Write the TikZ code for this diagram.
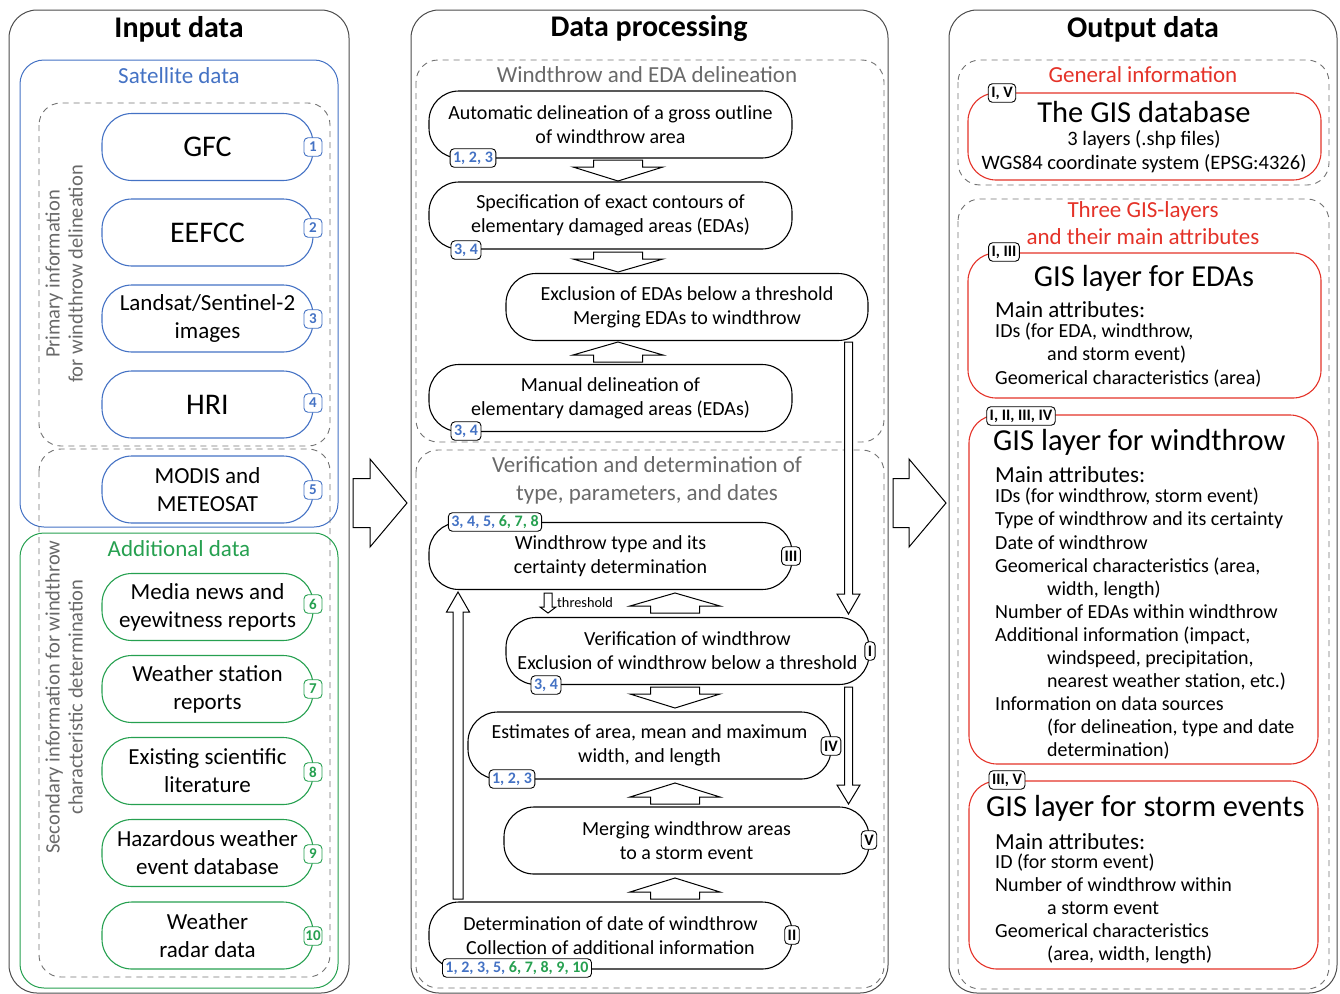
\documentclass[tikz,border=0pt]{standalone}
\usepackage{fontspec}
\setmainfont{Carlito}
\definecolor{cblue}{RGB}{68,114,196}
\definecolor{cgreen}{RGB}{38,160,80}
\definecolor{cred}{RGB}{228,50,40}
\definecolor{cgray}{RGB}{105,105,105}
\definecolor{dgray}{RGB}{115,115,115}
\newcommand\fs[2]{\fontsize{#1pt}{#2pt}\selectfont}
\newcommand\vblk[6]{\draw[blk] ({#1-#5},#2) -- ({#1+#5},#2) -- ({#1+#5},#3) -- ({#1+#6},#3) -- (#1,#4) -- ({#1-#6},#3) -- ({#1-#5},#3) -- cycle;}
\newcommand\hblk[6]{\draw[blk] (#2,{#1-#5}) -- (#3,{#1-#5}) -- (#3,{#1-#6}) -- (#4,#1) -- (#3,{#1+#6}) -- (#3,{#1+#5}) -- (#2,{#1+#5}) -- cycle;}
\newcommand\ind{\hspace*{52pt}}
\begin{document}
\begin{tikzpicture}[x=1pt,y=-1pt,
  panel/.style={draw=black!70, line width=1pt, rounded corners=28pt},
  dbox/.style={draw=dgray, dash pattern=on 6pt off 5pt, line width=0.9pt, rounded corners=22pt},
  title/.style={font=\bfseries\fs{30}{34}},
  item/.style={draw, line width=1.1pt, rounded corners=30pt, minimum width=211pt, minimum height=67pt, align=center, font=\fs{23}{28}, inner sep=0pt},
  bigitem/.style={item, font=\fs{30}{34}},
  proc/.style={draw=black, line width=1.1pt, rounded corners=30pt, minimum width=363pt, minimum height=67pt, align=center, font=\fs{20}{24}, inner sep=0pt},
  rbox/.style={draw=cred, line width=1.1pt, rounded corners=28pt, inner sep=0pt},
  badge/.style={draw=black, fill=white, rounded corners=4pt, line width=0.9pt, inner xsep=3pt, inner ysep=1.5pt, minimum height=18.5pt, font=\bfseries\fs{16}{18}},
  nbadge/.style={badge, minimum width=18pt, inner sep=1pt, font=\bfseries\fs{15}{16}},
  blk/.style={draw=black, fill=white, line width=1pt, line join=miter},
  glabel/.style={text=cgray, font=\fs{23}{28}, align=center},
  rlabel/.style={text=cred, font=\fs{23}{27}, align=center},
  gtitle/.style={font=\fs{30.5}{34}},
  mattr/.style={font=\fs{23}{26}, anchor=west, inner sep=0pt},
  attrs/.style={font=\fs{20}{23.1}, align=left, anchor=west, inner sep=0pt}
]
\useasboundingbox (0,0) rectangle (1340,993);

% ---------------- panels
\draw[panel] (9,10) rectangle (349,993);
\draw[panel] (411,10) rectangle (888,993);
\draw[panel] (949,10) rectangle (1337,993);

% ---------------- Input data
\node[title] (tin) at (179,29) {Input data};
\draw[draw=cblue, line width=1pt, rounded corners=24pt] (20,60) rectangle (338,527);
\node[text=cblue, font=\fs{23}{27}] (lsat) at (179,76) {Satellite data};
\draw[dbox] (39,103) rectangle (330,446);
\draw[dbox] (39,449) rectangle (330,977);
\draw[draw=cgreen, line width=1pt, rounded corners=24pt] (20,533) rectangle (338,988);
\node[text=cgreen, font=\fs{23}{27}] (ladd) at (179,549) {Additional data};
\node[rotate=90, text=cgray, align=center, font=\fs{20.5}{23}] (lprim) at (64,274) {Primary information\\for windthrow delineation};
\node[rotate=90, text=cgray, align=center, font=\fs{20.5}{23}] (lsec) at (64,697) {Secondary information for windthrow\\characteristic determination};

\node[bigitem, draw=cblue] (gfc) at (207.5,147) {GFC};
\node[bigitem, draw=cblue] (eefcc) at (207.5,232.5) {EEFCC};
\node[item, draw=cblue] (lands) at (207.5,318.5) {Landsat/Sentinel-2\\images};
\node[bigitem, draw=cblue] (hri) at (207.5,404.5) {HRI};
\node[item, draw=cblue] (modis) at (207.5,489.5) {MODIS and\\METEOSAT};
\node[item, draw=cgreen] (media) at (207.5,607) {Media news and\\eyewitness reports};
\node[item, draw=cgreen] (wst) at (207.5,689) {Weather station\\reports};
\node[item, draw=cgreen] (lit) at (207.5,771) {Existing scientific\\literature};
\node[item, draw=cgreen] (haz) at (207.5,853) {Hazardous weather\\event database};
\node[item, draw=cgreen] (radar) at (207.5,935.5) {Weather\\radar data};

\node[nbadge, draw=cblue, text=cblue] (n1) at (313,147) {1};
\node[nbadge, draw=cblue, text=cblue] (n2) at (313,228) {2};
\node[nbadge, draw=cblue, text=cblue] (n3) at (313,319) {3};
\node[nbadge, draw=cblue, text=cblue] (n4) at (313,403) {4};
\node[nbadge, draw=cblue, text=cblue] (n5) at (313,490) {5};
\node[nbadge, draw=cgreen, text=cgreen] (n6) at (313,604) {6};
\node[nbadge, draw=cgreen, text=cgreen] (n7) at (313,689) {7};
\node[nbadge, draw=cgreen, text=cgreen] (n8) at (313,772) {8};
\node[nbadge, draw=cgreen, text=cgreen] (n9) at (313,854) {9};
\node[nbadge, draw=cgreen, text=cgreen] (n10) at (313,936) {10};

% ---------------- Data processing
\node[title] (tproc) at (649,29) {Data processing};
\draw[dbox] (416,60) rectangle (884,442);
\node[glabel] (lwe) at (647,75) {Windthrow and EDA delineation};
\draw[dbox] (416,450) rectangle (884,988);
\node[glabel] (lver) at (647,480) {Verification and determination of\\type, parameters, and dates};

% block arrows
\vblk{618}{160}{167}{181}{24.5}{45}
\vblk{618}{252}{259}{272}{24.5}{45}
\vblk{618}{362}{355}{342}{24.5}{45}
\vblk{675}{613}{606}{593}{24.5}{45}
\vblk{675}{687}{694}{708}{24.5}{45}
\vblk{675}{804}{797}{783}{24.5}{45}
\vblk{675}{899}{892}{878}{24.5}{45}
\vblk{848.5}{342}{594}{614}{4}{11.5}
\vblk{848.5}{687}{785}{804}{4}{11.5}
\vblk{458}{899}{612}{592}{5}{11.5}
\vblk{548}{593}{607}{613}{4}{8}
\hblk{503}{353}{370}{407}{24.5}{44}
\hblk{503}{893}{909}{946}{24.5}{44}

\node[proc] (p1) at (610.5,124.5) {Automatic delineation of a gross outline\\of windthrow area};
\node[proc] (p2) at (610.5,215.5) {Specification of exact contours of\\elementary damaged areas (EDAs)};
\node[proc, minimum width=362pt] (p3) at (687,307) {Exclusion of EDAs below a threshold\\Merging EDAs to windthrow};
\node[proc] (p4) at (610.5,398) {Manual delineation of\\elementary damaged areas (EDAs)};
\node[proc] (p5) at (610.5,556) {Windthrow type and its\\certainty determination};
\node[proc] (p6) at (687.5,651) {Verification of windthrow\\Exclusion of windthrow below a threshold};
\node[proc] (p7) at (649.5,745.5) {Estimates of area, mean and maximum\\width, and length};
\node[proc, minimum width=365pt] (p8) at (686.5,840.5) {Merging windthrow areas\\to a storm event};
\node[proc] (p9) at (610.5,935.5) {Determination of date of windthrow\\Collection of additional information};

\node[anchor=west, font=\fs{14.3}{16}, inner sep=0pt] (thr) at (557,603) {threshold};

\node[badge, text=cblue] (b1) at (473,158) {1, 2, 3};
\node[badge, text=cblue] (b2) at (466,250) {3, 4};
\node[badge, text=cblue] (b4) at (466,431) {3, 4};
\node[badge] (b5) at (495,522) {\textcolor{cblue}{3, 4, 5,} \textcolor{cgreen}{6, 7, 8}};
\node[badge] (r5) at (791,556) {III};
\node[badge] (r6) at (870,651) {I};
\node[badge, text=cblue] (b6) at (546,685) {3, 4};
\node[badge] (r7) at (831,746) {IV};
\node[badge, text=cblue] (b7) at (512,779) {1, 2, 3};
\node[badge] (r8) at (869,840) {V};
\node[badge] (r9) at (792,935) {II};
\node[badge] (b9) at (517,968) {\textcolor{cblue}{1, 2, 3, 5,} \textcolor{cgreen}{6, 7, 8, 9, 10}};

% ---------------- Output data
\node[title] (tout) at (1143,29) {Output data};
\draw[dbox] (958,60) rectangle (1329,185);
\node[rlabel] (lgen) at (1143,75) {General information};
\draw[dbox] (958,199) rectangle (1329,989);
\node[rlabel] (lthree) at (1143,223.5) {Three GIS-layers\\and their main attributes};

\node[rbox, minimum width=353pt, minimum height=87pt] (gis) at (1144.5,136.5) {};
\node[gtitle] (gist) at (1144,112) {The GIS database};
\node[font=\fs{20.5}{22}] (gis1) at (1144,140) {3 layers (.shp files)};
\node[font=\fs{20.5}{22}] (gis2) at (1144,164) {WGS84 coordinate system (EPSG:4326)};
\node[badge] (bg) at (1002,93) {I, V};

\node[rbox, minimum width=353pt, minimum height=145pt] (eda) at (1144.5,325.5) {};
\node[gtitle] (edat) at (1144,278) {GIS layer for EDAs};
\node[mattr] (edam) at (995,310) {Main attributes:};
\node[attrs] (edaa) at (995,355) {IDs (for EDA, windthrow,\\\ind and storm event)\\Geomerical characteristics (area)};
\node[badge] (be) at (1004,252) {I, III};

\node[rbox, minimum width=349pt, minimum height=349pt] (wt) at (1143.5,589.5) {};
\node[gtitle, anchor=west, inner sep=0pt] (wtt) at (993,442) {GIS layer for windthrow};
\node[mattr] (wtm) at (995,475) {Main attributes:};
\node[attrs] (wta) at (995,624) {IDs (for windthrow, storm event)\\Type of windthrow and its certainty\\Date of windthrow\\Geomerical characteristics (area,\\\ind width, length)\\Number of EDAs within windthrow\\Additional information (impact,\\\ind windspeed, precipitation,\\\ind nearest weather station, etc.)\\Information on data sources\\\ind (for delineation, type and date\\\ind determination)};
\node[badge] (bw) at (1021,416) {I, II, III, IV};

\node[rbox, minimum width=349pt, minimum height=188pt] (st) at (1143.5,875) {};
\node[gtitle, anchor=west, inner sep=0pt] (stt) at (986,808) {GIS layer for storm events};
\node[mattr] (stm) at (995,842) {Main attributes:};
\node[attrs] (sta) at (995,909) {ID (for storm event)\\Number of windthrow within\\\ind a storm event\\Geomerical characteristics\\\ind (area, width, length)};
\node[badge] (bs) at (1007,780) {III, V};
\end{tikzpicture}
\end{document}
